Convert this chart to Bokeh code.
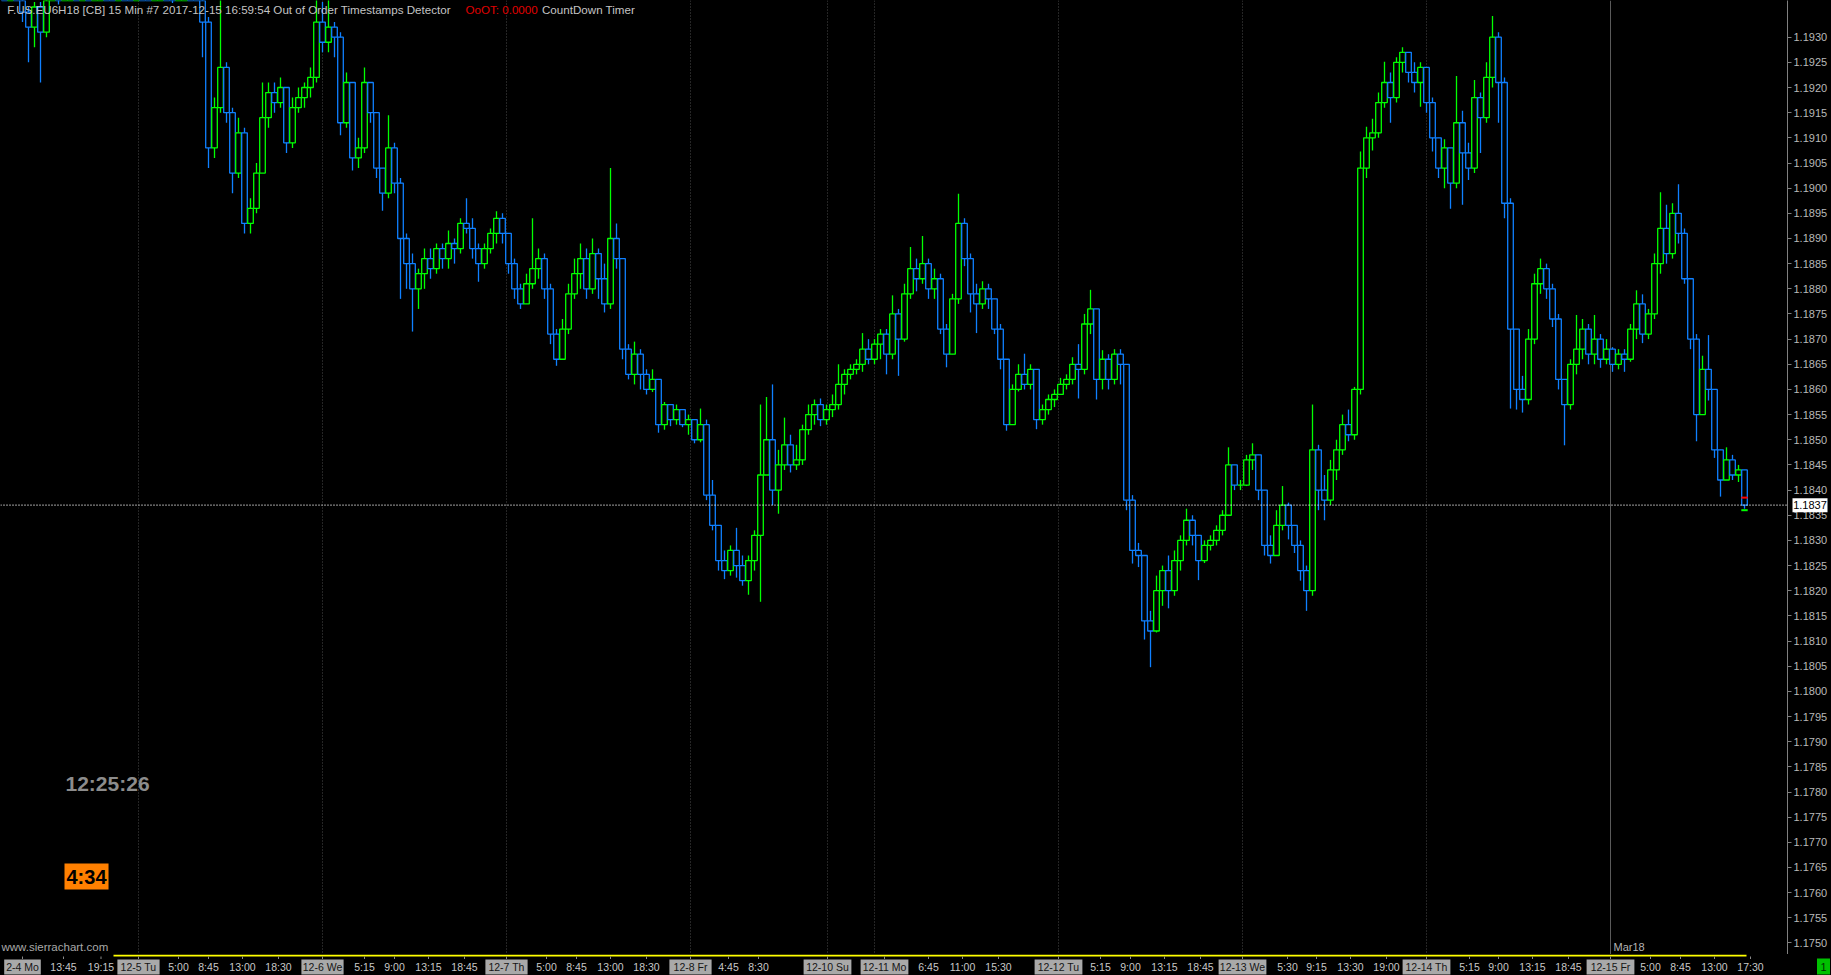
from bokeh.plotting import figure
from bokeh.models import (Range1d, FixedTicker, PrintfTickFormatter, Span, Label,
                          ColumnDataSource, GlobalInlineStyleSheet)
from bokeh.layouts import column
from bokeh.embed import file_html
from bokeh.resources import INLINE
from bokeh.core.properties import value

# ---------------- data (prices in pips above 1.1800) ----------------
first_open_pips = 140
close_pips = [139, 140, 138, 135, 132, 136, 131, 139, 141, 140,
              142, 144, 143, 145, 144, 146, 147, 145, 143, 144,
              142, 141, 143, 142, 140, 141, 142, 140, 139, 141,
              143, 142, 140, 133, 108, 116, 124, 115, 103, 111,
              93, 96, 103, 114, 119, 117, 120, 109, 116, 118,
              120, 122, 133, 129, 132, 130, 113, 121, 106, 108,
              121, 115, 104, 99, 108, 101, 90, 85, 80, 83,
              86, 84, 88, 86, 89, 88, 93, 92, 88, 85,
              88, 91, 94, 91, 85, 80, 77, 81, 84, 86,
              80, 71, 66, 72, 79, 83, 86, 80, 87, 82,
              77, 90, 86, 68, 63, 67, 63, 60, 62, 53,
              57, 54, 56, 53, 54, 50, 53, 39, 33, 26,
              24, 28, 25, 22, 26, 31, 43, 50, 40, 45,
              49, 45, 46, 52, 55, 57, 54, 56, 57, 61,
              63, 64, 65, 68, 66, 69, 71, 67, 75, 70,
              79, 84, 82, 85, 80, 82, 72, 67, 78, 93,
              86, 79, 77, 80, 78, 72, 66, 53, 60, 63,
              61, 64, 54, 56, 58, 59, 61, 62, 65, 64,
              73, 76, 62, 66, 62, 67, 65, 38, 28, 27,
              14, 12, 20, 24, 20, 26, 30, 34, 31, 26,
              29, 30, 32, 35, 45, 41, 41, 46, 47, 40,
              29, 27, 33, 37, 33, 29, 24, 20, 48, 40,
              38, 44, 48, 53, 51, 60, 104, 110, 111, 117,
              121, 118, 125, 127, 123, 121, 124, 117, 110, 104,
              108, 101, 113, 107, 104, 118, 114, 122, 130, 121,
              97, 72, 60, 58, 70, 81, 84, 80, 74, 62,
              57, 65, 68, 72, 67, 70, 66, 68, 65, 67,
              66, 72, 77, 71, 75, 85, 92, 87, 95, 91,
              82, 70, 55, 64, 60, 48, 42, 46, 43, 44,
              37]
high_pips = [142, 141, 141, 139, 136, 137, 137, 140, 143, 143,
             144, 146, 146, 147, 146, 148, 149, 148, 146, 146,
             145, 143, 145, 144, 143, 143, 144, 143, 141, 143,
             145, 144, 143, 141, 134, 118, 138, 125, 116, 114,
             112, 98, 105, 121, 121, 121, 122, 120, 118, 120,
             121, 124, 138, 137, 138, 133, 131, 123, 121, 110,
             124, 120, 115, 104, 114.5, 109, 102, 91, 87, 84,
             88, 88, 89, 89, 91.6, 90, 94, 98, 94, 89,
             89, 92, 95.4, 95, 91, 86, 81, 83, 94, 88,
             87, 81, 72, 74, 81, 86, 89, 88, 90, 88,
             85, 104, 93, 86, 69, 69.5, 68, 64, 64, 62,
             57.5, 57, 57, 56, 55, 54, 56.2, 54, 42, 33,
             28, 29, 32.5, 27, 27, 32, 57, 58.5, 61, 48,
             54.4, 51, 49, 53, 57, 58, 58.2, 57, 59, 65,
             64, 65, 66, 71.2, 70, 70, 72, 72, 78.7, 76,
             81, 88.3, 86, 90.5, 86, 84, 83, 73, 79, 98.9,
             94, 87, 81, 81.5, 81, 78, 73, 66, 61, 65,
             67.1, 65, 64, 57, 59, 60, 62.3, 63, 66.4, 69,
             75, 79.8, 76, 67.8, 67, 68, 68, 65, 39, 29.5,
             27, 16, 23, 25, 27, 28, 31, 36.3, 35, 31,
             30, 31, 33, 36, 48.5, 45, 42, 47, 49.3, 47,
             40, 31, 36, 40.8, 37.5, 33, 30, 25, 57, 49,
             43, 46, 50, 55, 56, 60.5, 107.3, 112.2, 113.8, 119,
             125.1, 123, 126, 128, 127, 125, 125, 124, 118, 110,
             109.7, 108, 122.3, 115.4, 109, 121.5, 119, 125, 134.2, 131,
             122, 98, 72, 62.7, 72, 83, 86, 85, 81, 75,
             62, 66, 74.8, 74, 73, 74.8, 71, 70, 68.4, 68,
             68, 73, 79.7, 78.9, 76, 87, 99.2, 96.7, 97, 100.8,
             92, 82, 71, 66.7, 70.8, 60, 47, 48.5, 47, 45,
             44]
low_pips = [138, 138, 138, 133, 125, 128, 121, 130, 138.5, 136.5,
            139, 141, 141, 142, 142, 143, 145, 143, 141, 142,
            140, 139, 140, 140, 138.5, 139, 140, 138, 136.8, 138,
            140, 139, 138, 126, 104, 106, 115, 113, 99, 102,
            91, 91, 95, 103, 112, 115, 116, 107, 108, 115,
            116, 118, 121, 127, 127, 126, 110.5, 112, 103.5, 104,
            107, 113, 102, 95.5, 98, 99, 78, 80, 71.5, 76,
            80, 82, 83, 84, 84, 85, 87, 91, 86, 81.4,
            84, 87, 89, 89, 83, 78, 76, 77, 80, 82,
            78, 69, 64.7, 66, 71, 78, 80, 78, 79, 78,
            75.3, 76, 84, 66, 62, 61, 60, 59, 59.5, 51.4,
            52, 52.7, 53, 52.5, 51, 49.3, 49.5, 38, 32, 24,
            22.3, 23, 22.6, 21, 19.2, 24, 17.8, 43, 37, 35.3,
            44, 43.5, 44, 45, 51, 53, 52.7, 53, 54.5, 56,
            59, 62, 63, 63.5, 65, 65, 66, 63, 66, 62.7,
            69.5, 78, 79.5, 81, 78, 78, 71, 64.4, 67, 77,
            84.5, 75.3, 71.2, 76, 76, 71, 64, 51.8, 53, 59.6,
            60, 60, 52.1, 53, 55, 56.5, 59, 60, 61, 58.2,
            63, 71, 58, 60, 60, 61, 61, 36, 25.4, 24.7,
            10.3, 4.8, 11.7, 17, 16.5, 19, 24, 29, 29, 22.1,
            25.5, 28, 29, 31, 35, 40, 40, 40.8, 44, 38,
            27, 25.4, 27, 32, 30.2, 27.5, 22, 16, 19, 36,
            34, 37, 42, 47, 49.7, 50, 59, 102, 107.5, 110,
            116, 113, 117, 123, 121, 119, 116.2, 115, 107.3, 102,
            100, 95.9, 100, 96.7, 101.6, 103, 107, 113, 120, 113,
            94, 56.2, 56, 55.4, 57, 69, 79, 78, 72.4, 60,
            48.9, 56, 63, 66, 65, 65, 64.3, 65, 63.5, 64,
            63.5, 65.5, 70, 69.2, 70, 74, 83, 85, 86, 89,
            81, 68, 49.7, 55, 57.8, 46.4, 38.7, 42, 42, 41.6,
            36.3]
# 15-minute bar number counted from 12-5 00:00, one candle per three bars
bar_slots = list(range(-67, 804, 3))

# bid / ask marks on the last bar (price)
ask_price = 1.18385
bid_price = 1.18360

price_ticks = [round(1.1750 + 0.0005 * i, 4) for i in range(37)]

time_label_slots = [-37.5, -18.75, 20, 35, 52, 70, 113, 128, 145, 163,
                    204, 219, 236, 254, 295, 310, 395, 412, 430, 481,
                    496, 513, 531, 574.5, 589, 606, 624, 665.5, 680, 697,
                    715, 756, 771, 788, 806]
time_label_texts = ["13:45", "19:15", "5:00", "8:45", "13:00", "18:30", "5:15", "9:00", "13:15", "18:45",
                    "5:00", "8:45", "13:00", "18:30", "4:45", "8:30", "6:45", "11:00", "15:30", "5:15",
                    "9:00", "13:15", "18:45", "5:30", "9:15", "13:30", "19:00", "5:15", "9:00", "13:15",
                    "18:45", "5:00", "8:45", "13:00", "17:30"]
day_label_slots = [-58, 0, 92, 184, 276, 344.5, 373, 460, 552, 644, 736]
day_label_texts = ["2-4 Mo", "12-5 Tu", "12-6 We", "12-7 Th", "12-8 Fr", "12-10 Su",
                   "12-11 Mo", "12-12 Tu", "12-13 We", "12-14 Th", "12-15 Fr"]
day_line_slots = [0, 92, 184, 276, 344.5, 368, 460, 552, 644]
roll_line_slot = 736
roll_label = "Mar18"

# ---------------- derived ----------------
def to_price(v):
    return 1.18 + v / 10000.0

opens_p = [first_open_pips] + close_pips[:-1]
o = [to_price(v) for v in opens_p]
c = [to_price(v) for v in close_pips]
h = [max(to_price(a), oo, cc) for a, oo, cc in zip(high_pips, o, c)]
l = [min(to_price(a), oo, cc) for a, oo, cc in zip(low_pips, o, c)]
GREEN = "#00ff00"
BLUE = "#0f80ff"
colors = [GREEN if cc >= oo else BLUE for oo, cc in zip(o, c)]
src = ColumnDataSource(dict(x=bar_slots, o=o, h=h, l=l, c=c,
                            top=[max(a, b) for a, b in zip(o, c)],
                            bottom=[min(a, b) for a, b in zip(o, c)],
                            color=colors))
last_price = c[-1]

# layout geometry (reference pixels)
FRAME_W, FRAME_H, RIGHT_W, AXIS_H = 1787, 954, 44, 21
X_START = -69.0
X_END = X_START + FRAME_W / 2.0
Y_TOP = 1.1930 + 36.7 / 50320.0
Y_BOT = 1.1930 - (FRAME_H - 36.7) / 50320.0


def px2x(px):
    return X_START + px / 2.0


def py2y(py):
    return Y_TOP - py / FRAME_H * (Y_TOP - Y_BOT)


SANS = "Liberation Sans"

# ---------------- price figure ----------------
p = figure(frame_width=FRAME_W, frame_height=FRAME_H,
           x_range=Range1d(X_START, X_END), y_range=Range1d(Y_BOT, Y_TOP),
           toolbar_location=None, output_backend="svg",
           x_axis_location=None, y_axis_location="right",
           min_border_left=0, min_border_top=0, min_border_bottom=0, min_border_right=RIGHT_W,
           background_fill_color="black", border_fill_color="black", outline_line_color=None)
p.grid.visible = False

ax = p.yaxis[0]
ax.ticker = FixedTicker(ticks=price_ticks)
ax.formatter = PrintfTickFormatter(format="%.4f")
ax.axis_line_color = "#808080"
ax.major_tick_line_color = "#808080"
ax.major_tick_out = 4
ax.major_tick_in = 0
ax.minor_tick_line_color = None
ax.major_label_text_color = "#b9b9b9"
ax.major_label_text_font = SANS
ax.major_label_text_font_size = "11px"
ax.major_label_standoff = 2

for s in day_line_slots:
    p.add_layout(Span(location=s, dimension="height", line_color="#4a4a4a",
                      line_dash="1 2", line_width=1, level="underlay"))
p.add_layout(Span(location=roll_line_slot, dimension="height", line_color="#5a5a5a",
                  line_width=1, level="underlay"))
p.text(x=[roll_line_slot + 1.5], y=[py2y(946)], text=[roll_label], text_color="#b4b4b4",
       text_font=value(SANS), text_font_size="11px", text_align="left",
       text_baseline="middle")

p.segment(x0="x", y0="l", x1="x", y1="h", source=src, line_color="color", line_width=1.3)
p.vbar(x="x", width=2.8, top="top", bottom="bottom", source=src,
       fill_color="black", line_color="color", line_width=1.3)

p.add_layout(Span(location=last_price, dimension="width", line_color="#ffffff",
                  line_dash="1 2", line_width=1.2))

p.segment(x0=[bar_slots[-1] - 1.6, bar_slots[-1] - 1.6], y0=[ask_price, bid_price],
          x1=[bar_slots[-1] + 1.6, bar_slots[-1] + 1.6], y1=[ask_price, bid_price],
          line_color=["#ff0000", "#00ff00"], line_width=2)

# header
hy = py2y(9)
header_parts = [(6.7, "F.US.EU6H18 [CB] 15 Min #7 2017-12-15 16:59:54 Out of Order Timestamps Detector", "#c4c4c4"),
                (465, "OoOT: 0.0000", "#e00000"),
                (541.5, "CountDown Timer", "#c4c4c4")]
for px, txt, col in header_parts:
    p.add_layout(Label(x=px2x(px), y=hy, text=txt, text_color=col, text_font=SANS,
                       text_font_size="11.6px", text_baseline="middle", text_align="left"))

p.add_layout(Label(x=px2x(65), y=py2y(783), text="12:25:26", text_color="#8c8c8c",
                   text_font=SANS, text_font_style="bold", text_font_size="21px",
                   text_baseline="middle", text_align="left"))
p.add_layout(Label(x=px2x(64), y=py2y(876), text="4:34", text_color="#000000",
                   text_font=SANS, text_font_style="bold", text_font_size="20px",
                   text_baseline="middle", text_align="left",
                   background_fill_color="#ff8000", padding=2))
p.add_layout(Label(x=px2x(1), y=py2y(946), text="www.sierrachart.com", text_color="#a8a8a8",
                   text_font=SANS, text_font_size="11.5px", text_baseline="middle",
                   text_align="left"))

# current price box in the axis area: glyphs drawn at overlay level
box_x = px2x(1809.5)
r1 = p.rect(x=[box_x], y=[last_price], width=[17.5], height=[14.0 / 50320.0],
            fill_color="#ffffff", line_color=None)
r2 = p.text(x=[box_x], y=[last_price], text=["%.4f" % last_price], text_color="#000000",
            text_font=value(SANS), text_font_size="11px", text_align="center",
            text_baseline="middle")
r1.level = "overlay"
r2.level = "overlay"

# ---------------- time axis strip ----------------
t = figure(frame_width=FRAME_W, frame_height=AXIS_H, x_range=p.x_range,
           y_range=Range1d(0, AXIS_H), toolbar_location=None, output_backend="svg",
           x_axis_location=None, y_axis_location=None,
           min_border_left=0, min_border_top=0, min_border_bottom=0, min_border_right=RIGHT_W,
           background_fill_color="black", border_fill_color="black", outline_line_color=None)
t.grid.visible = False

t.segment(x0=px2x(113), y0=20, x1=px2x(1746), y1=20, line_color="#ffff00", line_width=2)
all_slots = time_label_slots + day_label_slots
t.segment(x0=all_slots, y0=[16.5] * len(all_slots), x1=all_slots, y1=[19] * len(all_slots),
          line_color="#8a8a8a", line_width=1)
t.rect(x=day_label_slots, y=8.5, width=[(5.6 * len(s) + 3) / 2.0 for s in day_label_texts],
       height=15, fill_color="#a9a9a9", line_color=None)
t.text(x=day_label_slots, y=8.5, text=day_label_texts, text_color="#161616",
       text_font=value(SANS), text_font_size="10.5px", text_align="center",
       text_baseline="middle")
t.text(x=time_label_slots, y=8.5, text=time_label_texts, text_color="#c8c8c8",
       text_font=value(SANS), text_font_size="10.5px", text_align="center",
       text_baseline="middle")
g1 = t.rect(x=[px2x(1823)], y=[9], width=[6.5], height=[16], fill_color="#00c000", line_color=None)
g2 = t.text(x=[px2x(1823)], y=[9], text=["1"], text_color="#003000", text_font=value(SANS),
            text_font_size="11px", text_align="center", text_baseline="middle")
g1.level = "overlay"
g2.level = "overlay"

layout = column(p, t, spacing=0)
layout.stylesheets = [GlobalInlineStyleSheet(
    css="html, body { margin: 0 !important; padding: 0 !important; background: #000000; overflow: hidden; }")]

open("out.html", "w").write(file_html(layout, INLINE))
